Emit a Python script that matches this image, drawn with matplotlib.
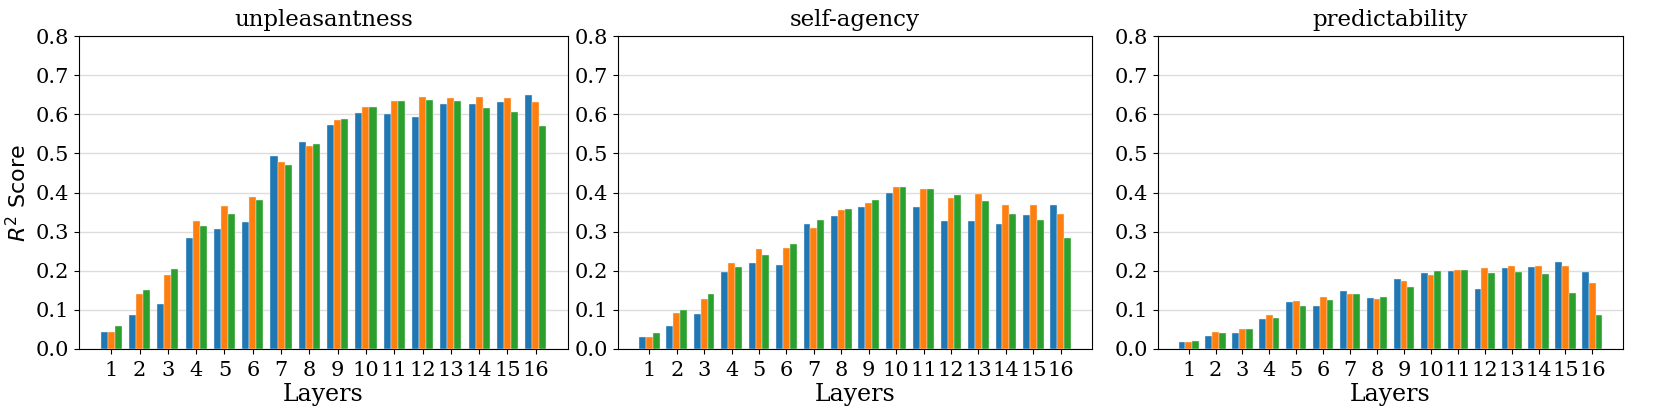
import matplotlib
matplotlib.use("Agg")
import matplotlib.pyplot as plt
import numpy as np

plt.rcParams['font.family'] = 'DejaVu Serif'

layers = list(range(1, 17))
titles = ["unpleasantness", "self-agency", "predictability"]
colors = ['tab:blue', 'tab:orange', 'tab:green']

# unpleasantness
unp_a = [0.043, 0.088, 0.115, 0.283, 0.306, 0.324, 0.493, 0.528, 0.573, 0.604, 0.600, 0.593, 0.625, 0.627, 0.632, 0.649]
unp_b = [0.043, 0.141, 0.188, 0.327, 0.365, 0.388, 0.479, 0.519, 0.586, 0.618, 0.633, 0.643, 0.642, 0.643, 0.641, 0.631]
unp_c = [0.058, 0.151, 0.205, 0.315, 0.346, 0.381, 0.471, 0.525, 0.589, 0.619, 0.633, 0.637, 0.633, 0.615, 0.605, 0.569]

# self-agency
sa_a = [0.031, 0.058, 0.090, 0.197, 0.219, 0.214, 0.319, 0.340, 0.362, 0.398, 0.362, 0.327, 0.327, 0.320, 0.342, 0.369]
sa_b = [0.031, 0.093, 0.128, 0.219, 0.255, 0.259, 0.308, 0.354, 0.373, 0.414, 0.409, 0.387, 0.397, 0.369, 0.369, 0.345]
sa_c = [0.041, 0.099, 0.141, 0.209, 0.239, 0.269, 0.329, 0.357, 0.380, 0.413, 0.408, 0.394, 0.378, 0.346, 0.330, 0.283]

# predictability
pr_a = [0.018, 0.034, 0.041, 0.077, 0.120, 0.111, 0.148, 0.130, 0.180, 0.194, 0.200, 0.153, 0.207, 0.210, 0.223, 0.198]
pr_b = [0.018, 0.043, 0.051, 0.088, 0.122, 0.134, 0.140, 0.129, 0.174, 0.190, 0.203, 0.208, 0.213, 0.212, 0.212, 0.169]
pr_c = [0.020, 0.042, 0.050, 0.079, 0.109, 0.126, 0.141, 0.133, 0.159, 0.199, 0.202, 0.194, 0.197, 0.191, 0.144, 0.088]

data = [(unp_a, unp_b, unp_c), (sa_a, sa_b, sa_c), (pr_a, pr_b, pr_c)]

fig = plt.figure(figsize=(16.61, 4.16), dpi=100)
# axes boxes in pixels: left, right
boxes = [(79, 568), (618, 1092), (1158, 1623)]
W, H = 1661, 416
top, bottom = 36, 349

x = np.array(layers)
w = 0.25
for i, (l, r) in enumerate(boxes):
    ax = fig.add_axes([l / W, 1 - bottom / H, (r - l) / W, (bottom - top) / H])
    for k, vals in enumerate(data[i]):
        ax.bar(x + (k - 1) * w, vals, width=w, color=colors[k],
               edgecolor='#eeeeee', linewidth=0.3, zorder=3)
    ax.set_ylim(0, 0.8)
    ax.set_yticks(np.arange(0, 0.81, 0.1))
    ax.set_xlim(-0.14, 17.14)
    ax.set_xticks(layers)
    ax.tick_params(labelsize=15)
    ax.tick_params(axis='x', pad=5)
    ax.yaxis.grid(True, color='#dddddd', linewidth=1, zorder=0)
    ax.set_axisbelow(True)
    ax.set_title(titles[i], fontsize=16.5, pad=7)
    ax.set_xlabel('Layers', fontsize=17, labelpad=2)
    if i == 0:
        ax.set_ylabel('$R^2$ Score', fontsize=16, family='DejaVu Sans')

plt.savefig('out.png', dpi=100)
